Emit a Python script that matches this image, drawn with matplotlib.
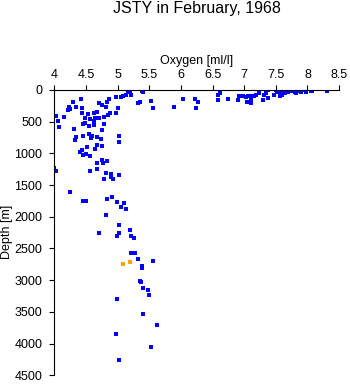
import matplotlib
matplotlib.use("Agg")
import matplotlib.pyplot as plt
from matplotlib.ticker import FuncFormatter

# blue: main station profile (oxygen ml/l, depth m)
oxygen = [
    5.16, 5.19, 5.22, 5.14, 5.08, 4.98, 5.05, 5.39, 5.40, 5.35, 5.32, 5.53, 5.56,
    4.87, 4.83, 4.75, 4.70, 4.71, 4.82, 5.01, 4.98, 4.88, 4.85, 4.79, 4.70, 4.64,
    4.62, 4.56, 4.49, 4.46, 4.49, 4.55, 4.63, 4.78, 4.43, 4.30, 4.24, 4.25, 4.22,
    4.34, 4.44, 4.44, 4.53, 4.62, 4.68, 4.03, 4.16, 4.06, 4.07, 4.31, 4.35, 4.32,
    4.46, 4.55, 4.60, 4.58, 4.67, 4.74, 4.75, 5.02, 5.02, 4.68, 4.75, 4.64, 4.51,
    4.44, 4.40, 4.46, 4.56, 4.50, 4.68, 4.75, 4.84, 4.77,
    4.00, 4.03, 4.56, 4.67, 4.81, 4.89, 4.90, 4.93, 4.78, 5.03, 4.25, 4.45, 4.50,
    4.91, 4.84, 4.99, 5.10, 5.06, 5.14, 4.82, 5.03, 5.19, 5.03, 4.70, 4.99, 5.22,
    5.26, 5.22, 5.27, 5.32, 5.56, 5.38, 5.39, 5.35, 5.37, 5.40, 5.48, 5.50, 4.99,
    5.40, 5.62, 4.98, 5.53, 5.03,
    5.89, 6.03, 6.22, 6.27, 6.24, 6.58, 6.62, 6.58, 6.74, 6.90, 6.92, 6.98, 7.03,
    7.06, 7.04, 7.09, 7.10, 7.11, 7.15, 7.18, 7.23, 7.29, 7.31, 7.34, 7.37, 7.37,
    7.47, 7.50, 7.52, 7.56, 7.57, 7.59, 7.61, 7.64, 7.66, 7.69, 7.74, 7.79, 7.80,
    7.82, 7.84, 7.89, 7.93, 7.98, 8.05, 8.07, 8.31,
]
depth = [
    10, 37, 73, 73, 100, 116, 105, 10, 37, 195, 210, 180, 290,
    147, 190, 230, 200, 210, 273, 290, 368, 368, 390, 430, 447, 442,
    484, 458, 447, 537, 526, 574, 558, 542, 147, 184, 263, 300, 315,
    273, 290, 363, 379, 358, 353, 405, 432, 494, 589, 621, 747, 789,
    721, 700, 721, 758, 747, 779, 637, 731, 826, 868, 884, 931, 905,
    952, 984, 1026, 1037, 1010, 1147, 1099, 1115, 1147,
    1235, 1283, 1283, 1251, 1314, 1320, 1378, 1404, 1409, 1346, 1614, 1756, 1756,
    1683, 1714, 1767, 1788, 1845, 1877, 1972, 2134, 2208, 2250, 2250, 2308, 2303,
    2340, 2576, 2576, 2671, 2703, 2776, 2813, 3012, 3033, 3128, 3160, 3239, 3297,
    3534, 3713, 3850, 4050, 4260,
    273, 147, 147, 195, 290, 73, 53, 158, 147, 153, 100, 89, 105,
    100, 195, 100, 147, 205, 89, 73, 53, 158, 73, 47, 5, 126,
    79, 5, 32, 53, 100, 73, 21, 53, 10, 37, 21, 10, 37,
    53, 10, 26, 0, 37, 21, 10, 21,
]

# orange: the two flagged samples
oxygen_flag = [5.08, 5.20]
depth_flag = [2749, 2718]

x_ticks = [4, 4.5, 5, 5.5, 6, 6.5, 7, 7.5, 8, 8.5]
y_ticks = list(range(0, 4501, 500))

plt.rcParams["font.family"] = ["Liberation Sans", "DejaVu Sans"]

fig = plt.figure(figsize=(3.5, 3.84), dpi=100)
ax = fig.add_axes([0.155, 0.0227, 0.814, 0.743])

ax.scatter(oxygen, depth, marker="s", s=5, color="#0000ff", linewidths=0)
ax.scatter(oxygen_flag, depth_flag, marker="s", s=5, color="#ffa500", linewidths=0)

ax.set_xlim(4, 8.5)
ax.set_ylim(4500, 0)
ax.set_xticks(x_ticks)
ax.set_yticks(y_ticks)
ax.xaxis.set_major_formatter(FuncFormatter(lambda v, _: f"{v:g}"))
ax.xaxis.tick_top()
ax.tick_params(axis="both", direction="out", length=3.6, width=0.8,
               labelsize=9, colors="black")
ax.tick_params(axis="x", pad=2.5)
ax.tick_params(axis="y", pad=5)
for side in ("right", "bottom"):
    ax.spines[side].set_visible(False)
for side in ("left", "top"):
    ax.spines[side].set_linewidth(0.8)

fig.text(0.563, 0.979, "JSTY in February, 1968", ha="center", va="center", fontsize=11.5)
fig.text(0.563, 0.841, "Oxygen [ml/l]", ha="center", va="center", fontsize=9)
fig.text(0.02, 0.395, "Depth [m]", ha="center", va="center", rotation=90, fontsize=9)

fig.savefig("out.png", dpi=100)
